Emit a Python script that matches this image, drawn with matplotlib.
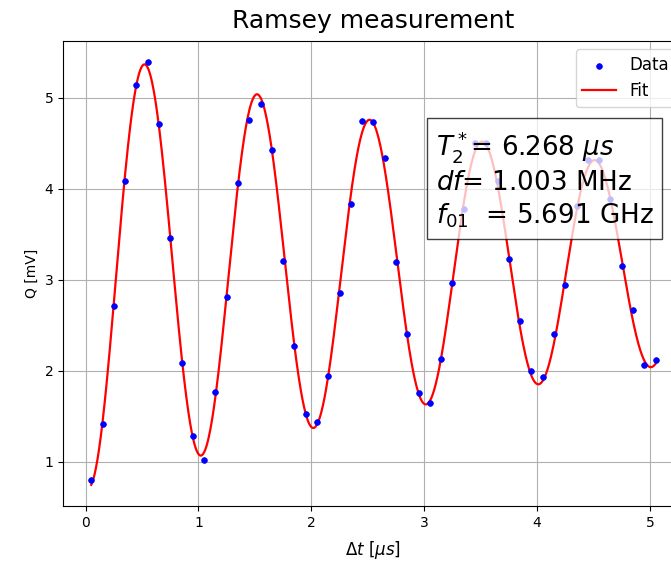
import numpy as np
import matplotlib
matplotlib.use("Agg")
import matplotlib.pyplot as plt

# Ramsey fringe data: delay (us) and quadrature signal (mV)
delay_us = [0.05, 0.15, 0.25, 0.35, 0.45, 0.55, 0.65, 0.75, 0.85, 0.95,
            1.05, 1.15, 1.25, 1.35, 1.45, 1.55, 1.65, 1.75, 1.85, 1.95,
            2.05, 2.15, 2.25, 2.35, 2.45, 2.55, 2.65, 2.75, 2.85, 2.95,
            3.05, 3.15, 3.25, 3.35, 3.45, 3.55, 3.65, 3.75, 3.85, 3.95,
            4.05, 4.15, 4.25, 4.35, 4.45, 4.55, 4.65, 4.75, 4.85, 4.95,
            5.05]
q_mv = [0.80, 1.42, 2.71, 4.09, 5.14, 5.39, 4.71, 3.46, 2.09, 1.29,
        1.02, 1.77, 2.81, 4.06, 4.75, 4.93, 4.42, 3.21, 2.27, 1.53,
        1.44, 1.94, 2.85, 3.83, 4.74, 4.73, 4.34, 3.20, 2.41, 1.76,
        1.65, 2.13, 2.97, 3.78, 4.50, 4.50, 4.08, 3.23, 2.55, 2.00,
        1.93, 2.41, 2.94, 3.81, 4.31, 4.31, 3.89, 3.15, 2.67, 2.06,
        2.12]

# Fit parameters
t2_star_us = 6.268
detuning_mhz = 1.003
f01_ghz = 5.691

t = np.asarray(delay_us)
q = np.asarray(q_mv)

# Damped cosine: offset + exp(-t/T2*) * (a cos + b sin); solve the linear part
def basis(tt):
    env = np.exp(-tt / t2_star_us)
    w = 2 * np.pi * detuning_mhz
    return np.column_stack([np.ones_like(tt), env * np.cos(w * tt), env * np.sin(w * tt)])

coef, *_ = np.linalg.lstsq(basis(t), q, rcond=None)
t_fit = np.linspace(t.min(), t.max(), 1000)
q_fit = basis(t_fit) @ coef

fig = plt.figure(figsize=(6.71, 5.61), dpi=100)
ax = fig.add_axes([0.0939, 0.098, 0.9251, 0.829])

ax.scatter(t, q, s=17, color="blue", linewidths=0.5, label="Data", zorder=3)
ax.plot(t_fit, q_fit, color="red", lw=1.6, label="Fit", zorder=2)

ax.set_title("Ramsey measurement", fontsize=18, pad=9)
ax.set_xlabel(r"$\Delta t$ [$\mu s$]", fontsize=12, labelpad=7)
ax.set_ylabel("Q [mV]")
ax.grid(True)
ax.legend(loc="upper right", fontsize=12)

label = (f"$T_2^*$= {t2_star_us:.3f} $\\mu s$\n"
         f"$df$= {detuning_mhz:.3f} MHz\n"
         f"$f_{{01}}$  = {f01_ghz:.3f} GHz")
ax.text(0.6006, 0.81, label, transform=ax.transAxes, fontsize=18.8,
        va="top", ha="left", linespacing=1.25,
        bbox=dict(boxstyle="square,pad=0.32", facecolor="white", alpha=0.75,
                  edgecolor="black"))

fig.savefig("out.png", dpi=100)
